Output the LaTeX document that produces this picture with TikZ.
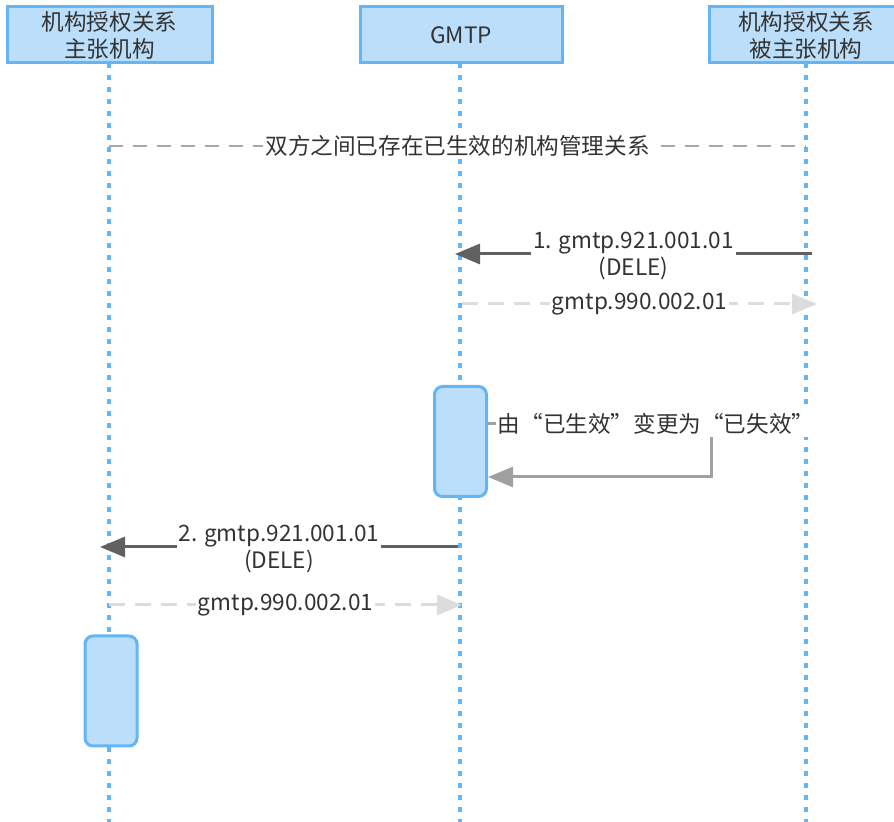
\documentclass[tikz,border=0pt]{standalone}
\usepackage{fontspec}
\setmainfont{Noto Sans CJK SC}
\usetikzlibrary{arrows.meta}
\definecolor{lifeblue}{HTML}{64B5F6}
\definecolor{boxfill}{HTML}{BBDEFB}
\definecolor{msggray}{HTML}{616161}
\definecolor{replygray}{HTML}{DCDCDC}
\definecolor{selfgray}{HTML}{A0A0A0}
\definecolor{notegray}{HTML}{A8A8A8}
\definecolor{txtgray}{HTML}{333333}
\tikzset{
	actor/.style={draw=lifeblue, fill=boxfill, line width=1.5pt, minimum width=101pt, minimum height=28pt, align=center, text=txtgray, inner sep=0pt},
	lifeline/.style={lifeblue, line width=1.75pt, dash pattern=on 2.5pt off 3.5pt},
	active/.style={draw=lifeblue, fill=boxfill, line width=1.5pt, rounded corners=4pt, minimum width=26pt, minimum height=55pt, inner sep=0pt},
	msg/.style={msggray, line width=1.5pt, -{Triangle[length=12.5pt,width=10pt]}},
	reply/.style={replygray, line width=1.5pt, dash pattern=on 8pt off 5pt, -{Triangle[length=12.5pt,width=10pt]}},
	lbl/.style={fill=white, text=txtgray, align=center, inner sep=1pt}
}
\begin{document}
\begin{tikzpicture}[x=0.5pt, y=-0.5pt, font=\fontsize{11.3}{13.5}\selectfont]
	\useasboundingbox (0,0) rectangle (894,822);
	% participants
	\node[actor, minimum width=102.5pt] (org1) at (109.5,35) {机构授权关系\\主张机构};
	\node[actor] (gmtp) at (461,35) {GMTP};
	\node[actor, minimum width=97pt] (org2) at (806,35) {机构授权关系\\被主张机构};
	\coordinate (end1) at (109,822);
	\coordinate (end2) at (460,822);
	\coordinate (end3) at (806,822);
	\draw[lifeline] (109,63) -- (end1);
	\draw[lifeline] (460,63) -- (end2);
	\draw[lifeline] (806,63) -- (end3);
	% activations
	\node[active] (act1) at (460.5,441.5) {};
	\node[active] (act2) at (111,691) {};
	% existing relation
	\draw[notegray, line width=1pt, dash pattern=on 7pt off 5pt] (end1 |- 0,146) -- node[lbl]{双方之间已存在已生效的机构管理关系} (end3 |- 0,146);
	% step 1
	\draw[msg] (812,254) -- node[lbl, yshift=-1pt]{1. gmtp.921.001.01\\(DELE)} (455,254);
	\draw[reply] (462,304) -- node[lbl]{gmtp.990.002.01} (817,304);
	% status change
	\draw[selfgray, line width=1.5pt, -{Triangle[length=12.5pt,width=10pt]}] (act1.east |- 0,424) -- (711,424) -- (711,477) -- (act1.east |- 0,477);
	\node[lbl] (chg) at (656,424) {由“已生效”变更为“已失效”};
	% step 2
	\draw[msg] (458,547) -- node[lbl, yshift=-1pt]{2. gmtp.921.001.01\\(DELE)} (100,547);
	\draw[reply] (109,605) -- node[lbl]{gmtp.990.002.01} (462,605);
\end{tikzpicture}
\end{document}
